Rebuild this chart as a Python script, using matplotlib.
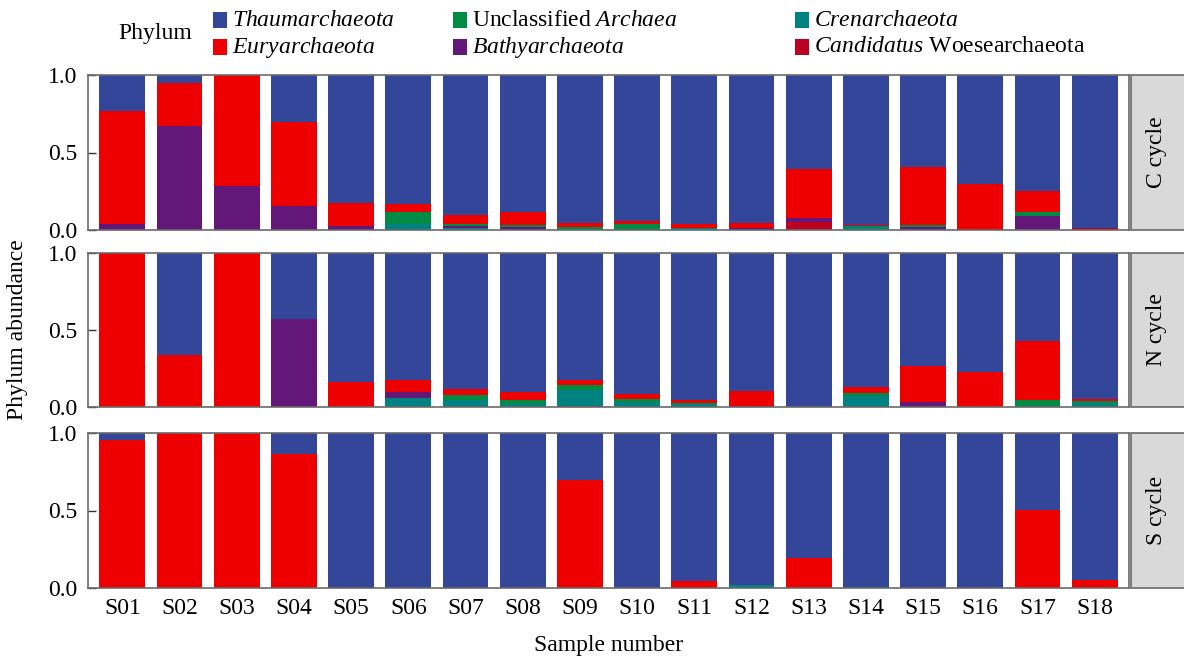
import numpy as np
import matplotlib
matplotlib.use('Agg')
import matplotlib.pyplot as plt
from matplotlib.patches import Rectangle

plt.rcParams['font.family'] = 'Liberation Serif'
plt.rcParams['mathtext.fontset'] = 'custom'
plt.rcParams['mathtext.rm'] = 'Liberation Serif'
plt.rcParams['mathtext.it'] = 'Liberation Serif:italic'

samples = ['S%02d' % i for i in range(1, 19)]
cycles = ['C cycle', 'N cycle', 'S cycle']

# relative abundance, rows = C / N / S cycle, columns = S01..S18
woese = [
    [0, 0, 0, 0, 0, 0, 0, 0, 0, 0, 0, 0, 0.054, 0, 0, 0, 0, 0.010],
    [0, 0, 0, 0, 0, 0, 0, 0, 0.005, 0, 0, 0, 0, 0, 0, 0, 0, 0],
    [0, 0, 0, 0, 0, 0, 0, 0, 0, 0, 0, 0, 0, 0, 0, 0, 0, 0],
]
cren = [
    [0, 0, 0, 0, 0, 0.037, 0.015, 0, 0.005, 0.005, 0.012, 0, 0, 0.017, 0, 0, 0, 0],
    [0, 0, 0, 0, 0, 0.059, 0.048, 0.017, 0.104, 0.030, 0.017, 0, 0, 0.072, 0, 0, 0, 0.026],
    [0, 0, 0, 0, 0, 0, 0, 0, 0, 0, 0, 0.022, 0, 0.009, 0, 0, 0, 0],
]
bathy = [
    [0.039, 0.668, 0.284, 0.154, 0.024, 0, 0.008, 0.017, 0, 0, 0, 0.010, 0.024, 0, 0.017, 0, 0.089, 0],
    [0, 0, 0, 0.570, 0, 0.037, 0, 0, 0, 0, 0, 0.006, 0, 0, 0.030, 0, 0, 0],
    [0, 0, 0, 0, 0, 0, 0, 0, 0, 0, 0, 0, 0, 0, 0, 0, 0, 0],
]
unclass = [
    [0, 0, 0, 0, 0, 0.082, 0.017, 0.013, 0.017, 0.032, 0, 0, 0, 0.009, 0.013, 0, 0.026, 0],
    [0, 0, 0, 0, 0, 0, 0.030, 0.026, 0.034, 0.024, 0.011, 0, 0, 0.021, 0, 0, 0.048, 0.013],
    [0, 0, 0, 0, 0, 0, 0, 0, 0, 0, 0, 0, 0, 0, 0, 0, 0, 0],
]
eury = [
    [0.727, 0.278, 0.716, 0.542, 0.150, 0.050, 0.055, 0.087, 0.021, 0.023, 0.025, 0.035, 0.315, 0.009, 0.378, 0.300, 0.134, 0],
    [1.0, 0.335, 1.0, 0, 0.165, 0.080, 0.037, 0.055, 0.031, 0.031, 0.020, 0.101, 0, 0.035, 0.237, 0.228, 0.378, 0.015],
    [0.954, 1.0, 1.0, 0.862, 0, 0, 0, 0, 0.694, 0, 0.048, 0, 0.195, 0, 0, 0, 0.503, 0.050],
]
thaum = [
    [0.234, 0.054, 0, 0.304, 0.826, 0.831, 0.905, 0.883, 0.957, 0.940, 0.963, 0.955, 0.607, 0.965, 0.592, 0.700, 0.751, 0.990],
    [0, 0.665, 0, 0.430, 0.835, 0.824, 0.885, 0.902, 0.826, 0.915, 0.952, 0.893, 1.0, 0.872, 0.733, 0.772, 0.574, 0.946],
    [0.046, 0, 0, 0.138, 1.0, 1.0, 1.0, 1.0, 0.306, 1.0, 0.952, 0.978, 0.805, 0.991, 1.0, 1.0, 0.497, 0.950],
]

# stacking order bottom -> top
layers = [woese, cren, bathy, unclass, eury, thaum]
colors = ['#BB0021', '#008280', '#631879', '#008B45', '#EE0000', '#34469A']

W, H = 1184, 656
fig = plt.figure(figsize=(W / 100, H / 100), dpi=100)

x = np.arange(1, 19)
left, right = 88, 1129
panels = [(75, 230), (253, 407), (433, 588)]
frame_col = '#6a6a6a'
fs = 17

for k, (top, bot) in enumerate(panels):
    ax = fig.add_axes([left / W, 1 - bot / H, (right - left) / W, (bot - top) / H])
    bottom = np.zeros(18)
    for vals, c in zip(layers, colors):
        v = np.array(vals[k])
        ax.bar(x, v, bottom=bottom, width=0.8, color=c, linewidth=0)
        bottom += v
    ax.set_xlim(0.4, 18.6)
    ax.set_ylim(0, 1)
    ax.set_yticks([0, 0.5, 1.0])
    ax.set_yticklabels(['0.0', '0.5', '1.0'], fontsize=fs)
    ax.tick_params(axis='y', direction='in', length=6, width=1, color='#333333', pad=8)
    if k == 2:
        ax.set_xticks(x)
        ax.set_xticklabels(samples, fontsize=fs)
        ax.tick_params(axis='x', length=0, pad=7)
    else:
        ax.set_xticks([])
    for s in ax.spines.values():
        s.set_color(frame_col)
        s.set_linewidth(1.2)

    # facet strip on the right
    sax = fig.add_axes([(right + 2) / W, 1 - bot / H, 60 / W, (bot - top) / H])
    sax.set_xlim(0, 1)
    sax.set_ylim(0, 1)
    sax.axis('off')
    sax.add_patch(Rectangle((0, 0), 1, 1, facecolor='#D9D9D9', edgecolor=frame_col,
                            linewidth=1.2, transform=sax.transAxes, clip_on=False))
    sax.text(0.42, 0.5, cycles[k], rotation=90, ha='center', va='center', fontsize=fs)

fig.text(18 / W, 1 - 330 / H, 'Phylum abundance', rotation=90, ha='center', va='center', fontsize=fs)
fig.text((left + right) / 2 / W, 1 - 645 / H, 'Sample number', ha='center', va='center', fontsize=fs)

# legend
labels = [r'$\it{Thaumarchaeota}$', r'$\it{Euryarchaeota}$',
          r'Unclassified $\it{Archaea}$', r'$\it{Bathyarchaeota}$',
          r'$\it{Crenarchaeota}$', r'$\it{Candidatus}$ Woesearchaeota']
leg_cols = ['#34469A', '#EE0000', '#008B45', '#631879', '#008280', '#BB0021']
col_x = [213, 453, 795]
row_y = [20, 47]
fig.text(118 / W, 1 - 34 / H, 'Phylum', ha='left', va='center', fontsize=fs)
for i, (lab, c) in enumerate(zip(labels, leg_cols)):
    cx = col_x[i // 2]
    cy = row_y[i % 2]
    fig.patches.append(Rectangle((cx / W, 1 - (cy + 8) / H), 14 / W, 16 / H,
                                 facecolor=c, edgecolor='none', transform=fig.transFigure))
    fig.text((cx + 19) / W, 1 - cy / H, lab, ha='left', va='center', fontsize=fs)

fig.savefig('out.png', dpi=100)
